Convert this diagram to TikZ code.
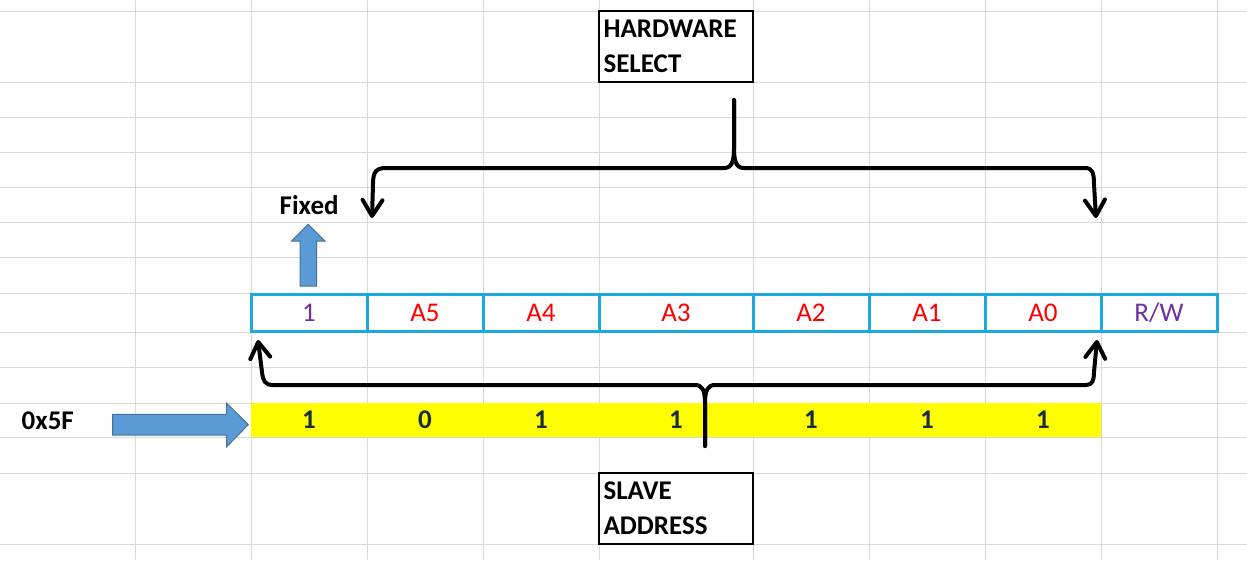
\documentclass[tikz,border=0pt]{standalone}
\usepackage{fontspec}
\setmainfont{Carlito}
\usetikzlibrary{arrows.meta}
\definecolor{gridc}{HTML}{D9D9D9}
\definecolor{cellblue}{HTML}{1CA9E1}
\definecolor{bitpurple}{HTML}{7030A0}
\definecolor{bitred}{HTML}{FF0000}
\definecolor{navytext}{HTML}{1B2E3F}
\definecolor{arrowfill}{HTML}{5B9BD5}
\definecolor{arrowedge}{HTML}{41719C}
\definecolor{hlyellow}{HTML}{FFFF00}
\begin{document}
\begin{tikzpicture}[x=1pt,y=-1pt,
  gridline/.style={gridc,line width=1pt},
  bitcell/.style={draw=cellblue,line width=3pt,minimum height=37pt,inner sep=0pt,
    text height=17pt,text depth=0pt,font=\fontsize{27}{30}\selectfont},
  valcell/.style={fill=hlyellow,minimum height=34pt,inner sep=0pt,text height=16pt,
    text depth=0pt,text=navytext,font=\bfseries\fontsize{27}{30}\selectfont},
  labelbox/.style={draw=black,fill=white,line width=2pt,minimum width=154pt,
    minimum height=71pt,text width=145pt,align=left,inner xsep=4.5pt,inner ysep=0pt,
    font=\bfseries\fontsize{27}{35}\selectfont},
  plainlabel/.style={font=\bfseries\fontsize{27}{30}\selectfont,inner sep=0pt,anchor=base west},
  brace/.style={line width=4pt,line cap=round,line join=round},
  tipped/.style={-{Straight Barb[length=16pt,width=20pt,round]}},
  blockarrow/.style={fill=arrowfill,draw=arrowedge,line width=1pt,line join=miter}
]
\useasboundingbox (0,0) rectangle (1247,560);
\fill[white] (0,0) rectangle (1247,560);
% spreadsheet grid
\foreach \gy in {11,82,117,152,187,222,257,293,332,367,403,437,473,544}
  \draw[gridline] (0,\gy) -- (1247,\gy);
\foreach \gx in {135,251,367,483,599,753,869,985,1101,1217}
  \draw[gridline] (\gx,0) -- (\gx,560);

% bit field row
\node[bitcell,minimum width=116pt,text=bitpurple] (b7) at (309,312.5) {1};
\node[bitcell,minimum width=116pt,text=bitred] (b6) at (425,312.5) {A5};
\node[bitcell,minimum width=116pt,text=bitred] (b5) at (541,312.5) {A4};
\node[bitcell,minimum width=154pt,text=bitred] (b4) at (676,312.5) {A3};
\node[bitcell,minimum width=116pt,text=bitred] (b3) at (811,312.5) {A2};
\node[bitcell,minimum width=116pt,text=bitred] (b2) at (927,312.5) {A1};
\node[bitcell,minimum width=116pt,text=bitred] (b1) at (1043,312.5) {A0};
\node[bitcell,minimum width=116pt,text=bitpurple] (b0) at (1159,312.5) {R/W};

% value row
\node[valcell,minimum width=116pt] (v6) at (309,420) {1};
\node[valcell,minimum width=116pt] (v5) at (425,420) {0};
\node[valcell,minimum width=116pt] (v4) at (541,420) {1};
\node[valcell,minimum width=154pt] (v3) at (676,420) {1};
\node[valcell,minimum width=116pt] (v2) at (811,420) {1};
\node[valcell,minimum width=116pt] (v1) at (927,420) {1};
\node[valcell,minimum width=116pt] (v0) at (1043,420) {1};

% label boxes
\node[labelbox] (hw) at (676,46.5) {HARDWARE\\SELECT};
\node[labelbox] (sa) at (676,508.5) {SLAVE\\ADDRESS};

% plain labels
\node[plainlabel] (hex) at (21.5,429) {0x5F};
\node[plainlabel] (fixed) at (279.5,214) {Fixed};

% block arrows
\draw[blockarrow] (112.7,414.3) -- (226.7,414.3) -- (226.7,403.3) -- (248.3,424.6)
  -- (226.7,446.7) -- (226.7,435) -- (112.7,435) -- cycle;
\draw[blockarrow] (300,286) -- (316.7,286) -- (316.7,241) -- (325,241) -- (308.3,224.3)
  -- (291.7,241) -- (300,241) -- cycle;

% brace end points
\coordinate (hwstem) at (734,100);
\coordinate (tl) at (372,218);
\coordinate (tr) at (1096,218);
\coordinate (sastem) at (705,446);
\coordinate (bl) at (258,340);
\coordinate (br) at (1097,340);

% hardware select brace
\draw[brace,tipped] (hwstem) -- (734,148) .. controls (734,163) and (731,168) .. (724,168)
  -- (386,168) .. controls (376,168) and (373,172) .. (373,184) -- (tl);
\draw[brace,tipped] (hwstem) -- (734,148) .. controls (734,163) and (737,168) .. (744,168)
  -- (1085,168) .. controls (1092,168) and (1094,172) .. (1094,184) -- (tr);

% slave address brace
\draw[brace,tipped] (sastem) -- (705,403) .. controls (705,390) and (702,385) .. (695,385)
  -- (273,385) .. controls (265,385) and (263,381) .. (262,372) -- (bl);
\draw[brace,tipped] (sastem) -- (705,403) .. controls (705,390) and (708,385) .. (715,385)
  -- (1086,385) .. controls (1092,385) and (1094,381) .. (1094,372) -- (br);
\end{tikzpicture}
\end{document}
